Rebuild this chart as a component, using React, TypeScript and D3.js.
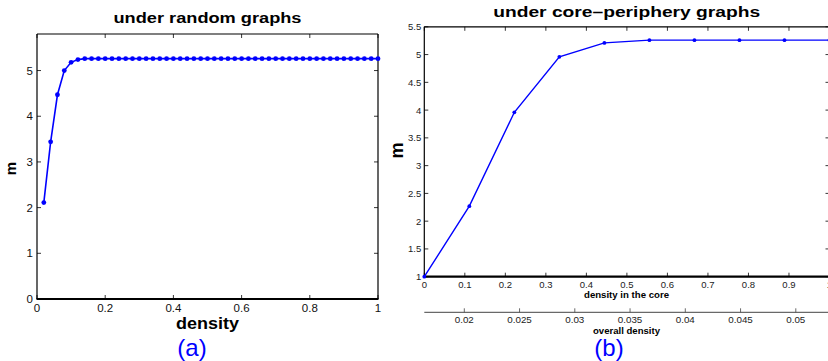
import React from "react";
import * as d3 from "d3";

// ---- data ----
const densityA: number[] = d3.range(1, 51).map((i) => +(i * 0.02).toFixed(2));
const mA: number[] = [
  2.11, 3.44, 4.47, 5.0, 5.18, 5.24, 5.26, 5.26, 5.26, 5.26,
  5.26, 5.26, 5.26, 5.26, 5.26, 5.26, 5.26, 5.26, 5.26, 5.26,
  5.26, 5.26, 5.26, 5.26, 5.26, 5.26, 5.26, 5.26, 5.26, 5.26,
  5.26, 5.26, 5.26, 5.26, 5.26, 5.26, 5.26, 5.26, 5.26, 5.26,
  5.26, 5.26, 5.26, 5.26, 5.26, 5.26, 5.26, 5.26, 5.26, 5.26,
];
const coreDensityB: number[] = [0, 1 / 9, 2 / 9, 3 / 9, 4 / 9, 5 / 9, 6 / 9, 7 / 9, 8 / 9, 1];
const mB: number[] = [1.0, 2.27, 3.96, 4.96, 5.21, 5.26, 5.26, 5.26, 5.26, 5.26];

const xTicksA = [0, 0.2, 0.4, 0.6, 0.8, 1];
const yTicksA = [0, 1, 2, 3, 4, 5];
const xTicksB = [0, 0.1, 0.2, 0.3, 0.4, 0.5, 0.6, 0.7, 0.8, 0.9, 1];
const yTicksB = [1, 1.5, 2, 2.5, 3, 3.5, 4, 4.5, 5, 5.5];
const overallTicks = [0.02, 0.025, 0.03, 0.035, 0.04, 0.045, 0.05];

const FONT = "'Liberation Sans', Arial, Helvetica, sans-serif";
const BLUE = "#0000ff";
const fmt = (v: number) => String(+v.toFixed(3));

export default function App() {
  // panel A
  const xA = d3.scaleLinear().domain([0, 1]).range([37, 378]);
  const yA = d3.scaleLinear().domain([0, 5.8]).range([299, 34]);
  // panel B
  const xB = d3.scaleLinear().domain([0, 1]).range([424.3, 829.5]);
  const yB = d3.scaleLinear().domain([1, 5.5]).range([276.7, 26.8]);
  const xO = d3.scaleLinear().domain([0.01638, 0.05305]).range([424.3, 829.5]);

  const lineA = d3
    .line<number>()
    .x((_, i) => xA(densityA[i]))
    .y((d) => yA(d));
  const lineB = d3
    .line<number>()
    .x((_, i) => xB(coreDensityB[i]))
    .y((d) => yB(d));

  const tl = 4;
  const [ax0, ax1] = xA.range();
  const [ay0, ay1] = yA.range();
  const [bx0, bx1] = xB.range();
  const [by0, by1] = yB.range();
  const oy = 312.3;

  return (
    <svg
      width={828}
      height={361}
      style={{ position: "absolute", left: 0, top: 0, background: "#fff" }}
      fontFamily={FONT}
    >
      <rect width={828} height={361} fill="#fff" />
      {/* ========== Panel A ========== */}
      <text x={207.5} y={23} fontSize={14.5} fontWeight="bold" textAnchor="middle"
        textLength={188} lengthAdjust="spacingAndGlyphs">under random graphs</text>
      <g stroke="#000" fill="none">
        <line x1={ax0} x2={ax1} y1={ay1} y2={ay1} strokeWidth={1.2} />
        <line x1={ax0} x2={ax0} y1={ay1} y2={ay0} strokeWidth={1.2} />
        <line x1={ax1} x2={ax1} y1={ay1} y2={ay0} strokeWidth={1.2} />
        <line x1={ax0 - 0.5} x2={ax1 + 0.5} y1={ay0} y2={ay0} strokeWidth={2} />
        {xTicksA.map((t) => (
          <g key={"xa" + t}>
            <line x1={xA(t)} x2={xA(t)} y1={ay0} y2={ay0 - tl} strokeWidth={0.8} />
            <line x1={xA(t)} x2={xA(t)} y1={ay1} y2={ay1 + tl} strokeWidth={0.8} />
          </g>
        ))}
        {yTicksA.map((t) => (
          <g key={"ya" + t}>
            <line x1={ax0} x2={ax0 + tl} y1={yA(t)} y2={yA(t)} strokeWidth={0.8} />
            <line x1={ax1} x2={ax1 - tl} y1={yA(t)} y2={yA(t)} strokeWidth={0.8} />
          </g>
        ))}
      </g>
      <g fontSize={11.5} fill="#111">
        {xTicksA.map((t) => (
          <text key={"xal" + t} x={xA(t)} y={312} textAnchor="middle">{fmt(t)}</text>
        ))}
        {yTicksA.map((t) => (
          <text key={"yal" + t} x={ax0 - 4} y={yA(t) + 4} textAnchor="end">{fmt(t)}</text>
        ))}
      </g>
      <path d={lineA(mA) || ""} fill="none" stroke={BLUE} strokeWidth={1.6} />
      {mA.map((v, i) => (
        <circle key={"pa" + i} cx={xA(densityA[i])} cy={yA(v)} r={2.4} fill={BLUE} />
      ))}
      <text x={207.5} y={329} fontSize={16.5} fontWeight="bold" textAnchor="middle"
        textLength={63} lengthAdjust="spacingAndGlyphs">density</text>
      <text transform="translate(15.7,168.5) rotate(-90)" fontSize={15} fontWeight="bold"
        textAnchor="middle">m</text>
      <text x={192} y={356} fontSize={24} fill={BLUE} textAnchor="middle">(a)</text>

      {/* ========== Panel B ========== */}
      <text x={626.7} y={17} fontSize={14.5} fontWeight="bold" textAnchor="middle"
        textLength={267} lengthAdjust="spacingAndGlyphs">under core–periphery graphs</text>
      <g stroke="#000" fill="none">
        <line x1={bx0} x2={bx1} y1={by1} y2={by1} strokeWidth={1.2} />
        <line x1={bx0} x2={bx0} y1={by1} y2={by0} strokeWidth={1.2} />
        <line x1={bx1} x2={bx1} y1={by1} y2={by0} strokeWidth={1.2} />
        <line x1={bx0 - 0.5} x2={bx1 + 0.5} y1={by0} y2={by0} strokeWidth={2.2} />
        {xTicksB.map((t) => (
          <g key={"xb" + t}>
            <line x1={xB(t)} x2={xB(t)} y1={by0} y2={by0 - tl} strokeWidth={0.8} />
            <line x1={xB(t)} x2={xB(t)} y1={by1} y2={by1 + tl} strokeWidth={0.8} />
          </g>
        ))}
        {yTicksB.map((t) => (
          <g key={"yb" + t}>
            <line x1={bx0} x2={bx0 + tl} y1={yB(t)} y2={yB(t)} strokeWidth={0.8} />
            <line x1={bx1} x2={bx1 - tl} y1={yB(t)} y2={yB(t)} strokeWidth={0.8} />
          </g>
        ))}
      </g>
      <g fontSize={9.5} fill="#222">
        {xTicksB.map((t) => (
          <text key={"xbl" + t} x={xB(t)} y={288} textAnchor="middle">{fmt(t)}</text>
        ))}
        {yTicksB.map((t) => (
          <text key={"ybl" + t} x={bx0 - 3} y={yB(t) + 3.5} textAnchor="end">{fmt(t)}</text>
        ))}
      </g>
      <path d={lineB(mB) || ""} fill="none" stroke={BLUE} strokeWidth={1.4} />
      {mB.map((v, i) => (
        <circle key={"pb" + i} cx={xB(coreDensityB[i])} cy={yB(v)} r={1.9} fill={BLUE} />
      ))}
      <text x={626.5} y={298} fontSize={9.3} fontWeight="bold" textAnchor="middle"
        textLength={85} lengthAdjust="spacingAndGlyphs">density in the core</text>
      <text transform="translate(402.7,150.5) rotate(-90)" fontSize={18} fontWeight="bold"
        textAnchor="middle">m</text>

      {/* secondary axis: overall density */}
      <g stroke="#444" fill="none">
        <line x1={bx0} x2={bx1} y1={oy} y2={oy} strokeWidth={1} />
        {overallTicks.map((t) => (
          <line key={"o" + t} x1={xO(t)} x2={xO(t)} y1={oy} y2={oy - 4} strokeWidth={0.8} />
        ))}
      </g>
      <g fontSize={9.8} fill="#222">
        {overallTicks.map((t) => (
          <text key={"ol" + t} x={xO(t)} y={322.5} textAnchor="middle">{fmt(t)}</text>
        ))}
      </g>
      <text x={626.5} y={333.5} fontSize={9.5} fontWeight="bold" textAnchor="middle"
        textLength={67} lengthAdjust="spacingAndGlyphs">overall density</text>
      <text x={609} y={356} fontSize={24} fill={BLUE} textAnchor="middle">(b)</text>
    </svg>
  );
}
